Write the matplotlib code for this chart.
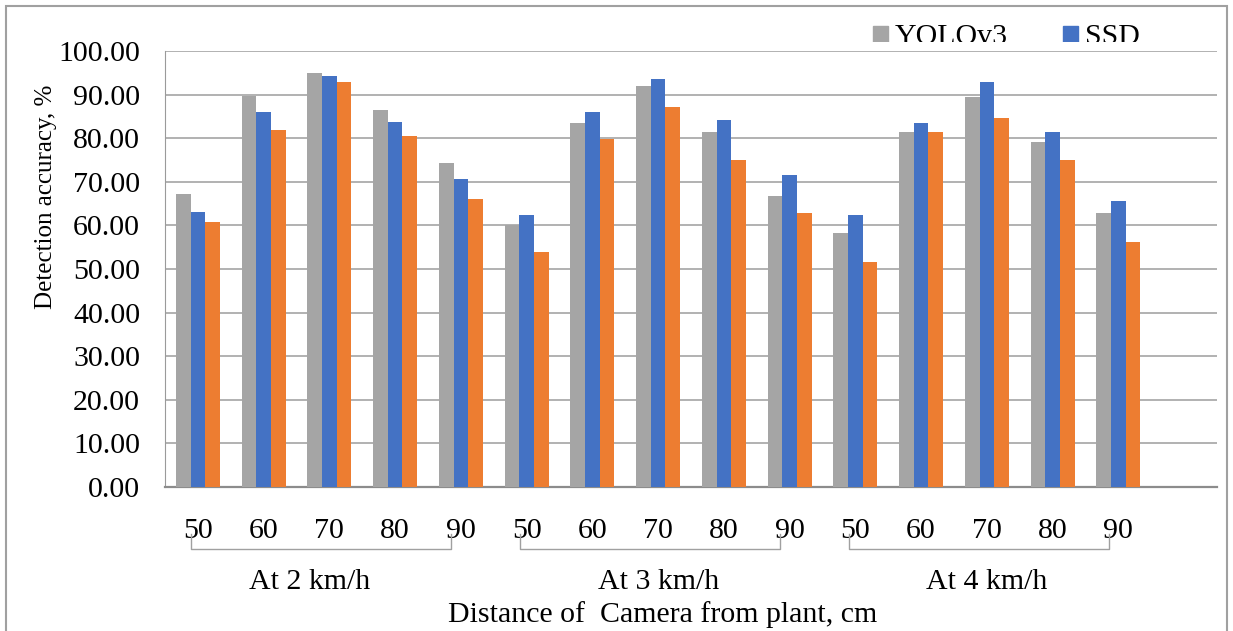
"""
Detection accuracy por distância da câmera e velocidade (YOLOv3 x SSD x terceiro modelo)
"""

import matplotlib
import matplotlib.pyplot as plt
import numpy as np
from matplotlib.patches import Rectangle

matplotlib.use("Agg")

# ── dados ──────────────────────────────────────────────────────────
distancias = ["50", "60", "70", "80", "90"]
velocidades = ["At 2 km/h", "At 3 km/h", "At 4 km/h"]

yolov3 = [67.2, 89.7, 95.0, 86.5, 74.3,
          60.0, 83.4, 92.0, 81.4, 66.7,
          58.2, 81.4, 89.4, 79.1, 62.8]
ssd = [63.1, 86.0, 94.3, 83.7, 70.6,
       62.3, 86.0, 93.6, 84.1, 71.5,
       62.5, 83.4, 92.9, 81.4, 65.5]
terceiro = [60.8, 81.9, 92.9, 80.5, 66.1,
            54.0, 79.8, 87.1, 74.9, 62.8,
            51.5, 81.4, 84.6, 74.9, 56.1]

COR_CINZA = "#A5A5A5"
COR_AZUL = "#4472C4"
COR_LARANJA = "#ED7D31"

plt.rcParams["font.family"] = ["Liberation Serif", "DejaVu Serif"]
FS = 21.5

W, H = 1233, 631
fig = plt.figure(figsize=(W / 100, H / 100), dpi=100)


def fx(px):
    return px / W


def fy(py):
    return 1 - py / H


ax = fig.add_axes([fx(165), fy(487), fx(1217) - fx(165), fy(51) - fy(487)])

series = [("YOLOv3", yolov3, COR_CINZA), ("SSD", ssd, COR_AZUL), ("", terceiro, COR_LARANJA)]
n_cat = len(yolov3)
x = np.arange(n_cat)
largura = 1 / 4.5
for i, (nome, vals, cor) in enumerate(series):
    ax.bar(x + (i - 1) * largura, vals, width=largura, color=cor, zorder=3)

ax.set_ylim(0, 100)
ax.set_xlim(-0.5, n_cat + 0.5)  # Excel deixou uma categoria vazia no fim
ax.set_yticks(np.arange(0, 101, 10))
ax.set_yticklabels([f"{v:.2f}" for v in np.arange(0, 101, 10)], fontsize=FS)
ax.tick_params(axis="y", length=0, pad=18)
ax.set_xticks(x)
ax.set_xticklabels(distancias * len(velocidades), fontsize=FS)
ax.tick_params(axis="x", length=0, pad=22)
ax.grid(axis="y", color="#ABABAB", linewidth=1.3, zorder=0)
for lado in ("top", "right"):
    ax.spines[lado].set_visible(False)
ax.spines["left"].set_color("#9A9A9A")
ax.spines["bottom"].set_color("#8C8C8C")
ax.spines["bottom"].set_linewidth(1.6)

# ── colchetes do eixo multinível ───────────────────────────────────
trans = ax.get_xaxis_transform()
y_colchete = -(549 - 487) / (487 - 51)
y_topo = -(534 - 487) / (487 - 51)
y_vel = -(582 - 487) / (487 - 51)
desloc_rotulo = [-0.3, 0, 0]  # o Excel desenhou o 1º rótulo um pouco à esquerda
for g, nome in enumerate(velocidades):
    x0 = g * 5 - 0.1
    x1 = g * 5 + 4 - 0.15
    ax.plot([x0, x0, x1, x1], [y_topo, y_colchete, y_colchete, y_topo],
            transform=trans, color="#A0A0A0", linewidth=1, clip_on=False)
    ax.text(g * 5 + 2 + desloc_rotulo[g], y_vel, nome, transform=trans,
            ha="center", va="center", fontsize=FS)

fig.text(fx(663), fy(615), "Distance of  Camera from plant, cm", ha="center",
         va="center", fontsize=FS)
fig.text(fx(46), fy(197), "Detection accuracy, %", rotation=90, ha="center",
         va="center", fontsize=18)

# ── legenda (cortada no topo como no original) ─────────────────────
ax_leg = fig.add_axes([fx(860), fy(42), fx(1200) - fx(860), fy(8) - fy(42)])
ax_leg.set_xlim(860, 1200)
ax_leg.set_ylim(42, 8)
ax_leg.axis("off")
for (nome, _, cor), xq in zip(series[:2], [873, 1063]):
    ax_leg.add_patch(Rectangle((xq, 26), 15, 16, color=cor, clip_on=True))
    ax_leg.text(xq + 22, 44, nome, fontsize=FS, va="baseline", ha="left", clip_on=True)

# borda externa do gráfico
fig.add_artist(Rectangle((fx(6), -0.05), fx(1227) - fx(6), fy(6) + 0.05,
                         transform=fig.transFigure, fill=False,
                         edgecolor="#A0A0A0", linewidth=1.5))

fig.savefig("out.png", dpi=100)
